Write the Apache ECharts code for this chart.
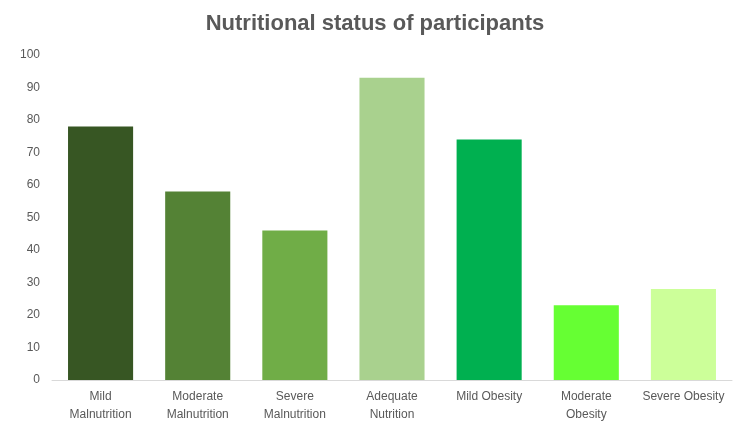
<!DOCTYPE html>
<html>
<head>
<meta charset="utf-8">
<script src="https://cdn.jsdelivr.net/npm/echarts@6/dist/echarts.min.js"></script>
<style>
  html, body { margin: 0; padding: 0; background: #fff; }
  #chart { width: 750px; height: 428px; }
</style>
</head>
<body>
<div id="chart"></div>
<script>
const categories = [
    'Mild\nMalnutrition', 'Moderate\nMalnutrition', 'Severe\nMalnutrition',
    'Adequate\nNutrition', 'Mild Obesity', 'Moderate\nObesity', 'Severe Obesity'
];
const values = [78, 58, 46, 93, 74, 23, 28];
const barColors = ['#375623', '#548235', '#70AD47', '#A9D18E', '#00B050', '#66FF33', '#CCFF99'];

const chart = echarts.init(document.getElementById('chart'), null, { renderer: 'canvas' });

chart.setOption({
    backgroundColor: '#fff',
    animation: false,
    title: {
        text: 'Nutritional status of participants',
        left: 'center',
        top: 8,
        textStyle: { fontFamily: 'Liberation Sans', fontSize: 22, fontWeight: 'bold', color: '#595959' },
    },
    grid: { left: 52, right: 18, top: 55, bottom: 48, containLabel: false },
    xAxis: {
        type: 'category',
        data: categories,
        axisLine: { lineStyle: { color: '#d9d9d9', width: 1 } },
        axisTick: { show: false },
        axisLabel: {
            color: '#595959', fontFamily: 'Liberation Sans', fontSize: 12,
            lineHeight: 18, margin: 8, interval: 0,
        },
    },
    yAxis: {
        type: 'value',
        min: 0, max: 100, interval: 10,
        axisLine: { show: false },
        axisTick: { show: false },
        splitLine: { show: false },
        axisLabel: { color: '#595959', fontFamily: 'Liberation Sans', fontSize: 12, margin: 12 },
    },
    series: [{
        type: 'bar',
        data: values.map((v, i) => ({ value: v, itemStyle: { color: barColors[i] } })),
        barCategoryGap: '33%',
    }],
});
</script>
</body>
</html>
